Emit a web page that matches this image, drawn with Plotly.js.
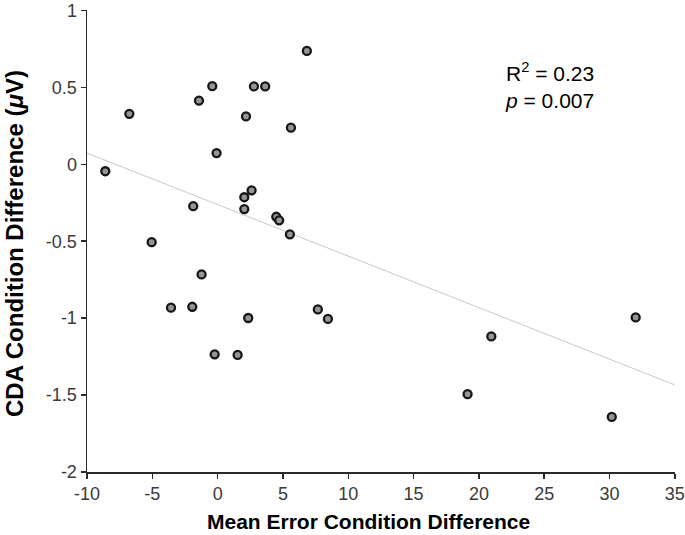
<!DOCTYPE html>
<html>
<head>
<meta charset="utf-8">
<script src="https://cdn.plot.ly/plotly-3.0.1.min.js"></script>
<style>html,body{margin:0;padding:0;background:#fff;}#chart{width:685px;height:535px;}</style>
</head>
<body>
<div id="chart"></div>
<script>
// Mean error condition difference (x) and CDA condition difference (y, µV)
const meanErrorDiff = [-8.6, -6.76, -5.05, -3.57, -1.87, -1.94, -1.43, -1.23, -0.41, -0.08, -0.23, 1.53, 2.17, 2.04, 2.04, 2.6, 2.78, 2.34, 3.64, 4.49, 4.71, 5.53, 5.61, 6.83, 7.67, 8.44, 19.13, 20.95, 30.17, 32.0];
const cdaDiff = [-0.045, 0.328, -0.506, -0.932, -0.272, -0.926, 0.414, -0.716, 0.508, 0.073, -1.235, -1.239, 0.311, -0.214, -0.291, -0.169, 0.506, -0.999, 0.506, -0.341, -0.364, -0.455, 0.238, 0.737, -0.943, -1.005, -1.494, -1.119, -1.642, -0.995];
// Regression line endpoints
const fitX = [-10, 35];
const fitY = [0.073, -1.434];
const xTicks = [-10, -5, 0, 5, 10, 15, 20, 25, 30, 35];
const yTicks = [-2, -1.5, -1, -0.5, 0, 0.5, 1];

const traces = [
  {x: fitX, y: fitY, mode: 'lines', type: 'scatter',
   line: {color: '#c8c8c8', width: 1}, hoverinfo: 'skip', showlegend: false, cliponaxis: false},
  {x: meanErrorDiff, y: cdaDiff, mode: 'markers', type: 'scatter',
   marker: {size: 8, color: '#959595', line: {color: '#161616', width: 2.3}},
   showlegend: false, cliponaxis: false}
];

const FONT = 'Arial, "Liberation Sans", Helvetica, sans-serif';
const axisFont = {family: FONT, size: 18, color: '#3a3a3a'};
const layout = {
  width: 685, height: 535,
  margin: {l: 87, r: 10, t: 10, b: 63},
  paper_bgcolor: '#ffffff', plot_bgcolor: '#ffffff',
  showlegend: false,
  xaxis: {
    range: [-10, 35.01], tickvals: xTicks, ticktext: xTicks.map(String),
    showgrid: false, zeroline: false, showline: true, linecolor: '#2a2a2a', linewidth: 1.5,
    ticks: 'outside', ticklen: 5, tickwidth: 1.5, tickcolor: '#2a2a2a',
    tickfont: axisFont, ticklabeloverflow: 'allow'
  },
  yaxis: {
    range: [-2, 1.003], tickvals: yTicks, ticktext: yTicks.map(String),
    showgrid: false, zeroline: false, showline: true, linecolor: '#2a2a2a', linewidth: 1.5,
    ticks: 'outside', ticklen: 5, tickwidth: 1.5, tickcolor: '#2a2a2a',
    tickfont: axisFont, ticklabeloverflow: 'allow'
  },
  annotations: [
    {
      xref: 'paper', yref: 'paper', x: 0.7075, y: 0.836, xanchor: 'left', yanchor: 'middle',
      align: 'left', showarrow: false,
      text: 'R<sup>2</sup> = 0.23<br><i>p</i> = 0.007',
      font: {family: FONT, size: 21, color: '#000'}
    },
    {
      xref: 'paper', yref: 'paper', x: 0.478, y: -0.108, xanchor: 'center', yanchor: 'middle',
      showarrow: false, text: '<b>Mean Error Condition Difference</b>',
      font: {family: FONT, size: 21, color: '#000'}
    },
    {
      xref: 'paper', yref: 'paper', x: -0.1241, y: 0.4935, xanchor: 'center', yanchor: 'middle',
      showarrow: false, textangle: -90, text: '<b>CDA Condition Difference (<i>μ</i>V)</b>',
      font: {family: FONT, size: 24, color: '#000'}
    }
  ]
};

Plotly.newPlot('chart', traces, layout, {staticPlot: true, displayModeBar: false});
</script>
</body>
</html>
